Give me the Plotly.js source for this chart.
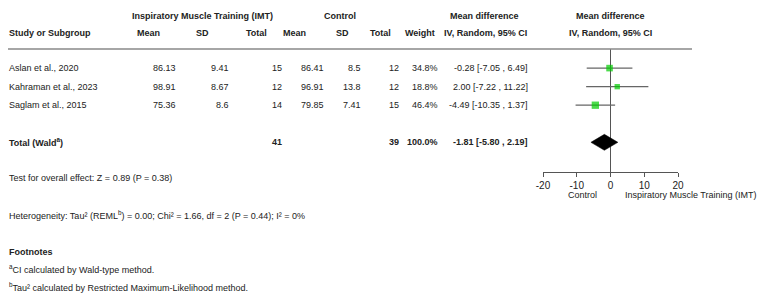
<!DOCTYPE html>
<html><head><meta charset="utf-8">
<script src="https://cdn.plot.ly/plotly-3.0.1.min.js"></script>
<style>html,body{margin:0;padding:0;background:#fff}#c{width:763px;height:303px}</style>
</head><body><div id="c"></div>
<script>
// ---- data ----
const studies = ["Aslan et al., 2020", "Kahraman et al., 2023", "Saglam et al., 2015"];
const imtMean = [86.13, 98.91, 75.36];
const imtSD = [9.41, 8.67, 8.6];
const imtN = [15, 12, 14];
const ctlMean = [86.41, 96.91, 79.85];
const ctlSD = [8.5, 13.8, 7.41];
const ctlN = [12, 12, 15];
const weight = [34.8, 18.8, 46.4];
const md = [-0.28, 2.00, -4.49];
const ciLo = [-7.05, -7.22, -10.35];
const ciHi = [6.49, 11.22, 1.37];
const totalLabel = "Total (Wald<sup>a</sup>)";
const totalImtN = 41, totalCtlN = 39, totalWeight = 100.0;
const pooledMD = -1.81, pooledLo = -5.80, pooledHi = 2.19;
const xTicks = [-20, -10, 0, 10, 20];
const xTickText = ["-20", "-10", "0", "10", "20"];
const overallText = "Test for overall effect: Z = 0.89 (P = 0.38)";
const hetText = "Heterogeneity: Tau² (REML<sup>b</sup>) = 0.00; Chi² = 1.66, df = 2 (P = 0.44); I² = 0%";
const footTitle = "Footnotes";
const footA = "<sup>a</sup>CI calculated by Wald-type method.";
const footB = "<sup>b</sup>Tau² calculated by Restricted Maximum-Likelihood method.";

// ---- layout helpers ----
const W = 763, H = 303;
const FONT = "Liberation Sans Narrow, Arial Narrow, Liberation Sans, Arial, sans-serif";
const FS = 9;
const TC = "#222";
const px = x => x / W, py = y => 1 - y / H;
const rowY = studies.map((s, i) => i);
const totalY = studies.length + 1;

const ann = [];
function T(text, x, y, anchor, opts = {}) {
  ann.push(Object.assign({
    text: text, x: px(x), xref: "paper", xanchor: anchor,
    y: y, yref: "y", yanchor: "middle", showarrow: false,
    borderpad: 0, font: {family: FONT, size: FS, color: TC}
  }, opts));
}
function P(text, x, y, anchor, opts = {}) {
  ann.push(Object.assign({
    text: text, x: px(x), xref: "paper", xanchor: anchor,
    y: py(y), yref: "paper", yanchor: "middle", showarrow: false,
    borderpad: 0, font: {family: FONT, size: FS, color: TC}
  }, opts));
}
const f2 = v => v.toFixed(2);

// headers
P("<b>Inspiratory Muscle Training (IMT)</b>", 202, 16, "center");
P("<b>Control</b>", 340, 16, "center");
P("<b>Mean difference</b>", 484, 16, "center");
P("<b>Mean difference</b>", 610, 16, "center");
P("<b>Study or Subgroup</b>", 8, 33, "left");
P("<b>Mean</b>", 148, 33, "center");
P("<b>SD</b>", 202, 33, "center");
P("<b>Total</b>", 268, 33, "right");
P("<b>Mean</b>", 294, 33, "center");
P("<b>SD</b>", 342, 33, "center");
P("<b>Total</b>", 392, 33, "right");
P("<b>Weight</b>", 420, 33, "center");
P("<b>IV, Random, 95% CI</b>", 485, 33, "center");
P("<b>IV, Random, 95% CI</b>", 610, 33, "center");

// rows
studies.forEach((s, i) => {
  const y = rowY[i];
  T(s, 8, y, "left");
  T(String(imtMean[i]), 177, y, "right");
  T(String(imtSD[i]), 230, y, "right");
  T(String(imtN[i]), 283, y, "right");
  T(String(ctlMean[i]), 325, y, "right");
  T(String(ctlSD[i]), 362, y, "right");
  T(String(ctlN[i]), 400, y, "right");
  T(weight[i].toFixed(1) + "%", 439, y, "right");
  T(f2(md[i]) + " [" + f2(ciLo[i]) + " , " + f2(ciHi[i]) + "]", 529, y, "right");
});
T("<b>" + totalLabel + "</b>", 8, totalY, "left");
T("<b>" + totalImtN + "</b>", 283, totalY, "right");
T("<b>" + totalCtlN + "</b>", 400, totalY, "right");
T("<b>" + totalWeight.toFixed(1) + "%</b>", 439, totalY, "right");
T("<b>" + f2(pooledMD) + " [" + f2(pooledLo) + " , " + f2(pooledHi) + "]</b>", 529, totalY, "right");

// bottom texts
P(overallText, 8, 178, "left");
P(hetText, 8, 215, "left");
P("<b>" + footTitle + "</b>", 8, 252, "left");
P(footA, 8, 269, "left");
P(footB, 8, 287, "left");
P("Control", 582, 195, "center");
P("Inspiratory Muscle Training (IMT)", 624, 195, "left");

// ---- traces ----
const ciX = [], ciY = [];
md.forEach((m, i) => { ciX.push(ciLo[i], ciHi[i], null); ciY.push(rowY[i], rowY[i], null); });
const ciTrace = {type: "scatter", mode: "lines", x: ciX, y: ciY,
  line: {color: "#666", width: 1.3}, hoverinfo: "skip", cliponaxis: false};
const ptTrace = {type: "scatter", mode: "markers", x: md, y: rowY,
  marker: {symbol: "square", color: "#00cc00", size: weight.map(w => 2 + Math.sqrt(w) * 0.78),
    line: {width: 0}}, cliponaxis: false};
const dh = 0.43;
const diamond = {type: "scatter", mode: "lines", fill: "toself",
  x: [pooledLo, pooledMD, pooledHi, pooledMD, pooledLo],
  y: [totalY, totalY - dh, totalY, totalY + dh, totalY],
  line: {color: "#000", width: 0.5}, fillcolor: "#000", cliponaxis: false};

const plotTopPx = 49, plotBotPx = 172;
const yTop = -1.03, yBot = 5.6;

const layout = {
  width: W, height: H, margin: {l: 0, r: 0, t: 0, b: 0},
  paper_bgcolor: "#fff", plot_bgcolor: "rgba(0,0,0,0)",
  showlegend: false,
  font: {family: FONT, size: FS, color: TC},
  xaxis: {domain: [px(543), px(678)], range: [-20, 20],
    tickmode: "array", tickvals: xTicks, ticktext: xTickText,
    ticks: "outside", ticklen: 4, tickcolor: "#555", tickwidth: 1,
    showline: true, linecolor: "#555", linewidth: 1,
    zeroline: true, zerolinecolor: "#555", zerolinewidth: 1,
    showgrid: false, fixedrange: true,
    tickfont: {family: FONT, size: 10, color: TC}},
  yaxis: {domain: [py(plotBotPx), py(plotTopPx)], range: [yBot, yTop], visible: false,
    showgrid: false, zeroline: false, fixedrange: true},
  shapes: [{type: "line", xref: "paper", yref: "paper", x0: px(8), x1: px(692),
    y0: py(49), y1: py(49), line: {color: "#888", width: 1.5}}],
  annotations: ann
};
Plotly.newPlot("c", [ciTrace, ptTrace, diamond], layout, {staticPlot: true, displayModeBar: false});
</script></body></html>
